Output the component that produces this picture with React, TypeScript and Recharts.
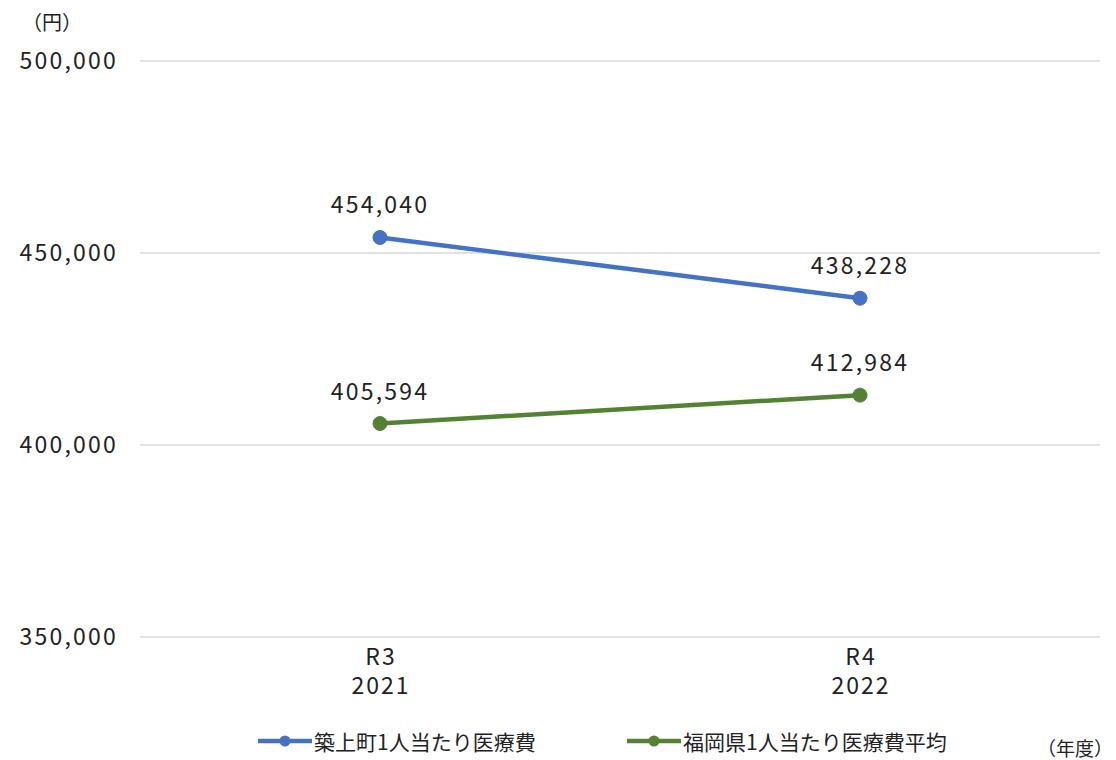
import React from 'react';
import { LineChart, Line, XAxis, YAxis, CartesianGrid, LabelList } from 'recharts';

const years = ['R3', 'R4'];
const westernYears = ['2021', '2022'];
const chikujoValues = [454040, 438228];
const fukuokaValues = [405594, 412984];
const yTicks = [350000, 400000, 450000, 500000];

const SERIES = [
  { key: 'chikujo', name: '築上町1人当たり医療費', color: '#4472C4', legendLeft: 258 },
  { key: 'fukuoka', name: '福岡県1人当たり医療費平均', color: '#548235', legendLeft: 627 },
];

const FONT = '"Noto Sans CJK JP", "Noto Sans", sans-serif';
const TXT = '#222';

const data = years.map((y, i) => ({
  name: y,
  year: westernYears[i],
  chikujo: chikujoValues[i],
  fukuoka: fukuokaValues[i],
}));

const fmt = (v: number) => v.toLocaleString('en-US');

// two-line category tick: wareki on top, western year below
const YearTick = ({ x, y, payload, index }: any) => (
  <g fill={TXT} fontSize={23} fontFamily={FONT} letterSpacing={2}>
    <text x={x + 1} y={y + 20} textAnchor="middle">{payload.value}</text>
    <text x={x + 1} y={y + 49} textAnchor="middle">{westernYears[index]}</text>
  </g>
);

export default function App() {
  return (
    <div style={{ position: 'absolute', left: 0, top: 0, width: 1116, height: 760, background: '#fff', fontFamily: FONT }}>
      <LineChart
        width={1116}
        height={760}
        data={data}
        margin={{ top: 61, right: 16, left: 0, bottom: 0 }}
      >
        <CartesianGrid vertical={false} stroke="#d9d9d9" strokeWidth={1.5} />
        <XAxis
          dataKey="name"
          axisLine={false}
          tickLine={false}
          tick={<YearTick />}
          padding={{ left: 240, right: 240 }}
          height={123}
          interval={0}
        />
        <YAxis
          domain={[350000, 500000]}
          ticks={yTicks}
          tickFormatter={fmt}
          axisLine={false}
          tickLine={false}
          tickSize={0}
          tickMargin={22}
          width={140}
          tick={{ fill: TXT, fontSize: 23, fontFamily: FONT, letterSpacing: 2.2 }}
        />
        {SERIES.map(s => (
          <Line
            key={s.key}
            dataKey={s.key}
            name={s.name}
            stroke={s.color}
            strokeWidth={4.5}
            dot={{ r: 7, fill: s.color, stroke: s.color, strokeWidth: 1 }}
            activeDot={false}
            isAnimationActive={false}
          >
            <LabelList
              dataKey={s.key}
              position="top"
              offset={24}
              formatter={(v: any) => fmt(v)}
              style={{ fill: TXT, fontSize: 23, fontFamily: FONT, letterSpacing: 2.2 }}
            />
          </Line>
        ))}
      </LineChart>

      <div style={{ position: 'absolute', left: 22, top: 7, fontSize: 20, color: TXT }}>（円）</div>
      <div style={{ position: 'absolute', left: 1037, top: 734, fontSize: 19, color: TXT, whiteSpace: 'nowrap' }}>（年度）</div>

      {SERIES.map(s => (
        <div
          key={s.key}
          style={{ position: 'absolute', top: 726, left: s.legendLeft, display: 'flex', alignItems: 'center', height: 30, fontSize: 21, color: TXT }}
        >
          <svg width={56} height={26}>
            <line x1={0} y1={13} x2={54} y2={13} stroke={s.color} strokeWidth={4.5} />
            <circle cx={27} cy={13} r={5.5} fill={s.color} />
          </svg>
          <span style={{ whiteSpace: 'nowrap' }}>{s.name}</span>
        </div>
      ))}
    </div>
  );
}
